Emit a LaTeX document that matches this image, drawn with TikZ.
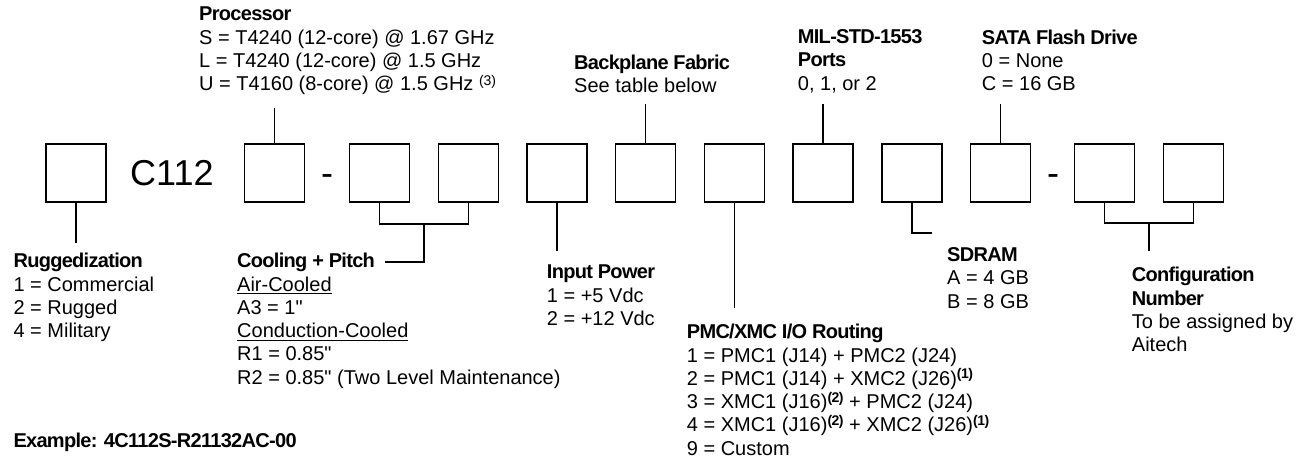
\documentclass[tikz,border=0pt]{standalone}
\usepackage{fontspec}
\newfontfamily\af{Liberation Sans}
\newfontfamily\hdf{Liberation Sans}[LetterSpace=-3.5]
\newcommand\hd[1]{{\hdf\bfseries #1}}
\newcommand\ulx[1]{\setbox0\hbox{#1}\rlap{\rule[-3.4pt]{\wd0}{1.3pt}}\box0}
\newcommand\supr[1]{\raisebox{5pt}{\af\fontsize{14}{14}\selectfont #1}}
\newcommand\supb[1]{\raisebox{6.5pt}{\hdf\bfseries\fontsize{14}{14}\selectfont #1}}
\begin{document}
\begin{tikzpicture}[x=1pt,y=-1pt,
  pbox/.style={draw,line width=1.9pt,minimum width=60pt,minimum height=58pt,inner sep=0pt},
  lbl/.style={anchor=north west,inner sep=0pt,align=left,font=\af\fontsize{20}{23.3}\selectfont},
  big/.style={anchor=base,inner sep=0pt,font=\af\fontsize{36}{40}\selectfont},
  ln/.style={line width=1.9pt}]
\useasboundingbox (0,0) rectangle (1306,459);
% boxes
\node[pbox] (b1) at (76,173) {};
\node[pbox] (b2) at (274.5,173) {};
\node[pbox] (b3) at (379.5,173) {};
\node[pbox] (b4) at (468.5,173) {};
\node[pbox] (b5) at (557,173) {};
\node[pbox] (b6) at (645.5,173) {};
\node[pbox] (b7) at (734.5,173) {};
\node[pbox] (b8) at (823,173) {};
\node[pbox] (b9) at (912,173) {};
\node[pbox] (b10) at (1000.5,173) {};
\node[pbox] (b11) at (1104.5,173) {};
\node[pbox] (b12) at (1193.5,173) {};
% big texts
\node[big,anchor=base west] (tC) at (130,185) {C112};
\node[big] (d1) at (327,185) {-};
\node[big] (d2) at (1053,185) {-};
% labels
\node[lbl] (lProc) at (199,7) {\hd{Processor}\\S = T4240 (12-core) @ 1.67 GHz\\L = T4240 (12-core) @ 1.5 GHz\\U = T4160 (8-core) @ 1.5 GHz \supr{(3)}};
\node[lbl] (lBack) at (574,55) {\hd{Backplane Fabric}\\See table below};
\node[lbl] (lMil) at (797.7,29.5) {\hd{MIL-STD-1553}\\\hd{Ports}\\0, 1, or 2};
\node[lbl] (lSata) at (981.7,29.5) {\hd{SATA Flash Drive}\\0 = None\\C = 16 GB};
\node[lbl] (lRug) at (13.3,253) {\hd{Ruggedization}\\1 = Commercial\\2 = Rugged\\4 = Military};
\node[lbl] (lCool) at (237,253) {\hd{Cooling + Pitch}\\\ulx{Air-Cooled}\\A3 = 1"\\\ulx{Conduction-Cooled}\\R1 = 0.85"\\R2 = 0.85" (Two Level Maintenance)};
\node[lbl] (lInp) at (546.7,265) {\hd{Input Power}\\1 = +5 Vdc\\2 = +12 Vdc};
\node[lbl] (lPmc) at (686.7,324) {\hd{PMC/XMC I/O Routing}\\1 = PMC1 (J14) + PMC2 (J24)\\2 = PMC1 (J14) + XMC2 (J26)\supb{(1)}\\3 = XMC1 (J16)\supb{(2)} + PMC2 (J24)\\4 = XMC1 (J16)\supb{(2)} + XMC2 (J26)\supb{(1)}\\9 = Custom};
\node[lbl] (lSdr) at (947,247.3) {\hd{SDRAM}\\A = 4 GB\\B = 8 GB};
\node[lbl] (lCfg) at (1131.7,267) {\hd{Configuration}\\\hd{Number}\\To be assigned by\\Aitech};
\node[lbl] (lEx) at (13.3,432.7) {\hd{Example: 4C112S-R21132AC-00}};
% connector ends
\coordinate (pProc) at (274.5,108);
\coordinate (pBack) at (645.5,104);
\coordinate (pMil) at (823,104);
\coordinate (pSata) at (1000.5,104);
\coordinate (pRug) at (76,243);
\coordinate (jCool) at (424,224);
\coordinate (pCool) at (385,262);
\coordinate (pInp) at (557,251);
\coordinate (pPmc) at (734.5,308);
\coordinate (pSdr) at (932,233);
\coordinate (jCfg) at (1149,223);
\coordinate (pCfg) at (1149,251);
% connectors
\draw[ln] (b2.north) -- (pProc);
\draw[ln] (b6.north) -- (pBack);
\draw[ln] (b8.north) -- (pMil);
\draw[ln] (b10.north) -- (pSata);
\draw[ln] (b1.south) -- (pRug);
\draw[ln] (b3.south) |- (jCool) -| (b4.south);
\draw[ln] (jCool) |- (pCool);
\draw[ln] (b5.south) -- (pInp);
\draw[ln] (b7.south) -- (pPmc);
\draw[ln] (b9.south) |- (pSdr);
\draw[ln] (b11.south) |- (jCfg) -| (b12.south);
\draw[ln] (jCfg) -- (pCfg);
\end{tikzpicture}
\end{document}
